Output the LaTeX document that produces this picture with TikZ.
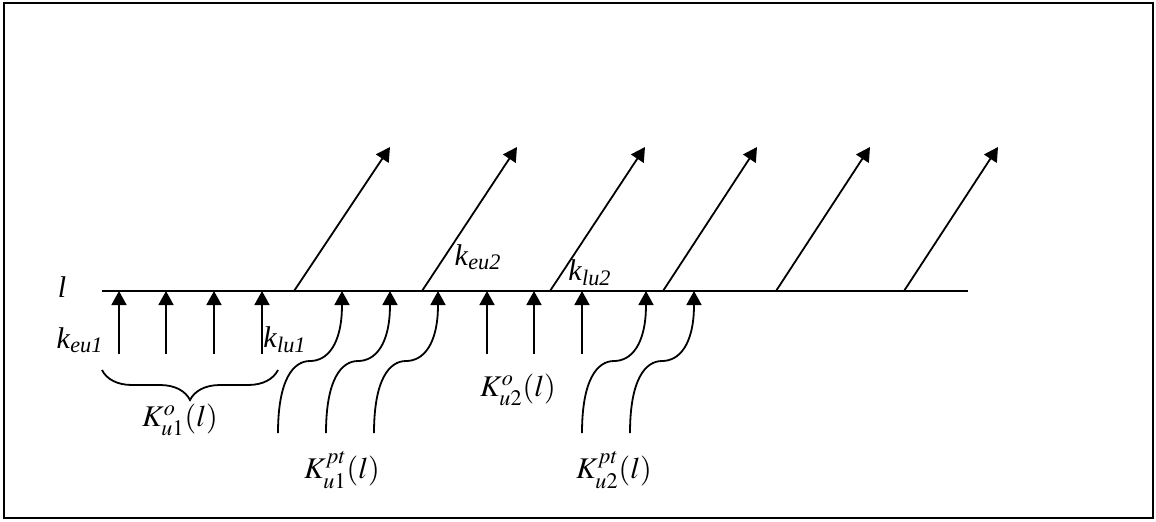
\documentclass[tikz,border=0pt]{standalone}
\usepackage{mathptmx}
\usepackage[no-math]{fontspec}
\setmainfont{Liberation Serif}
\usetikzlibrary{arrows.meta,positioning,decorations.pathreplacing}
\tikzset{
  ln/.style={line width=0.9pt},
  arr/.style={-{Triangle[length=7pt,width=7.5pt]},line width=0.9pt},
  lbl/.style={inner sep=0pt,font=\fontsize{15}{17}\selectfont},
  brc/.style={decorate,decoration={brace,mirror,amplitude=15pt},line width=0.9pt}
}
\newcommand{\ksub}[1]{\textit{k}\textsubscript{\textit{#1}}}

\begin{document}
\begin{tikzpicture}[x=0.5pt,y=-0.5pt,font=\fontsize{15}{17}\selectfont]
\useasboundingbox (0,0) rectangle (1156,521);
\draw[ln] (4,3) rectangle (1153,518);
% line l
\coordinate (l0) at (102,291); \coordinate (l1) at (968,291);
\draw[ln] (l0) -- (l1);
\node[lbl] (ll) at (62,287) {\textit{l}};
% straight arrows, first group
\coordinate (a1) at (119,354); \coordinate (b1) at (119,291);
\coordinate (a2) at (166,354); \coordinate (b2) at (166,291);
\coordinate (a3) at (214,354); \coordinate (b3) at (214,291);
\coordinate (a4) at (262,354); \coordinate (b4) at (262,291);
\draw[arr] (a1)--(b1); \draw[arr] (a2)--(b2); \draw[arr] (a3)--(b3); \draw[arr] (a4)--(b4);
% straight arrows, second group
\coordinate (a5) at (487,354); \coordinate (b5) at (487,291);
\coordinate (a6) at (534,354); \coordinate (b6) at (534,291);
\coordinate (a7) at (582,354); \coordinate (b7) at (582,291);
\draw[arr] (a5)--(b5); \draw[arr] (a6)--(b6); \draw[arr] (a7)--(b7);
% curved arrows
\coordinate (p1) at (278,433); \coordinate (q1) at (342,291);
\coordinate (p2) at (326,433); \coordinate (q2) at (390,291);
\coordinate (p3) at (374,433); \coordinate (q3) at (438,291);
\coordinate (p4) at (582,433); \coordinate (q4) at (646,291);
\coordinate (p5) at (630,433); \coordinate (q5) at (694,291);
\draw[arr] (p1) .. controls +(0,-53) and +(-17,0) .. ++(32,-72) .. controls +(17,0) and +(0,54) .. (q1);
\draw[arr] (p2) .. controls +(0,-53) and +(-17,0) .. ++(32,-72) .. controls +(17,0) and +(0,54) .. (q2);
\draw[arr] (p3) .. controls +(0,-53) and +(-17,0) .. ++(32,-72) .. controls +(17,0) and +(0,54) .. (q3);
\draw[arr] (p4) .. controls +(0,-53) and +(-17,0) .. ++(32,-72) .. controls +(17,0) and +(0,54) .. (q4);
\draw[arr] (p5) .. controls +(0,-53) and +(-17,0) .. ++(32,-72) .. controls +(17,0) and +(0,54) .. (q5);
% outgoing arrows
\coordinate (d1) at (294,291); \coordinate (e1) at (390,147);
\coordinate (d2) at (422,291); \coordinate (e2) at (517,147);
\coordinate (d3) at (550,291); \coordinate (e3) at (645,147);
\coordinate (d4) at (663,291); \coordinate (e4) at (757,147);
\coordinate (d5) at (776,291); \coordinate (e5) at (870,147);
\coordinate (d6) at (904,291); \coordinate (e6) at (998,147);
\draw[arr] (d1)--(e1); \draw[arr] (d2)--(e2); \draw[arr] (d3)--(e3);
\draw[arr] (d4)--(e4); \draw[arr] (d5)--(e5); \draw[arr] (d6)--(e6);
% brace
\coordinate (br0) at (102,370); \coordinate (br1) at (278,370);
\draw[brc] (br0) -- (br1);
% labels
\node[lbl] (keu1) at (80,340) {\ksub{eu1}};
\node[lbl] (klu1) at (285,340) {\ksub{lu1}};
\node[lbl] (keu2) at (478,257) {\ksub{eu2}};
\node[lbl] (klu2) at (590,273) {\ksub{lu2}};
\node[lbl] (Ko1) at (180,420) {$K_{u1}^{o}(l)$};
\node[lbl] (Kpt1) at (342,470) {$K_{u1}^{pt}(l)$};
\node[lbl] (Ko2) at (518,390) {$K_{u2}^{o}(l)$};
\node[lbl] (Kpt2) at (614,470) {$K_{u2}^{pt}(l)$};
\end{tikzpicture}
\end{document}
